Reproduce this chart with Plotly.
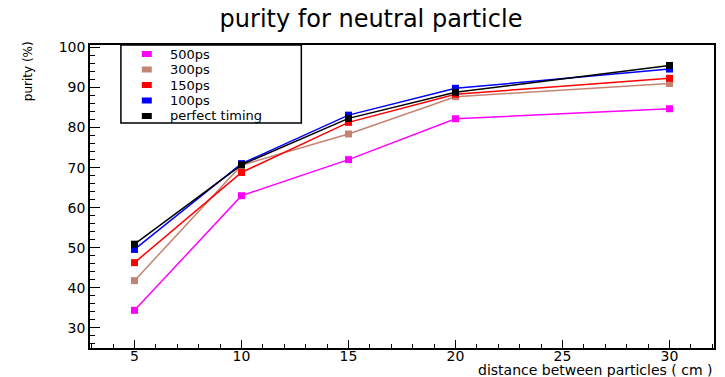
import plotly.graph_objects as go

# ---- data ----
distance = [5, 10, 15, 20, 30]
series_names = ["500ps", "300ps", "150ps", "100ps", "perfect timing"]
purity_500ps = [34.4, 63.0, 72.0, 82.2, 84.7]
purity_300ps = [41.8, 70.6, 78.4, 87.7, 91.0]
purity_150ps = [46.3, 68.8, 81.3, 88.3, 92.3]
purity_100ps = [49.6, 71.0, 83.1, 89.8, 94.6]
purity_perfect = [50.9, 70.7, 82.3, 88.8, 95.5]
colors = ["#ff00ff", "#c48474", "#ff0000", "#0000ff", "#000000"]
x_ticks = [5, 10, 15, 20, 25, 30]
y_ticks = [30, 40, 50, 60, 70, 80, 90, 100]

all_series = [purity_500ps, purity_300ps, purity_150ps, purity_100ps, purity_perfect]

W, H = 725, 377
L, R, T, B = 90, 9, 45, 29
PW, PH = W - L - R, H - T - B

def px(x):
    return (x - L) / PW

def py(y):
    return (H - B - y) / PH

FONT = "DejaVu Sans, Liberation Sans, Arial, sans-serif"

fig = go.Figure()
for name, vals, col in zip(series_names, all_series, colors):
    fig.add_trace(go.Scatter(
        x=distance, y=vals, mode="lines+markers", name=name,
        line=dict(color=col, width=1.5),
        marker=dict(symbol="square", size=7, color=col),
        showlegend=False,
    ))

# manual ROOT-style legend
shapes = [dict(type="rect", xref="paper", yref="paper",
               x0=px(121), x1=px(302), y0=py(123), y1=py(45),
               line=dict(color="black", width=1.5), fillcolor="white", layer="above")]
annotations = []
for i, (name, col) in enumerate(zip(series_names, colors)):
    yc = 54 + i * 15.5
    shapes.append(dict(type="rect", xref="paper", yref="paper",
                       x0=px(142), x1=px(152), y0=py(yc + 3), y1=py(yc - 3),
                       line=dict(width=0), fillcolor=col, layer="above"))
    annotations.append(dict(x=px(168), y=py(yc), xref="paper", yref="paper",
                            text=name, showarrow=False, xanchor="left", yanchor="middle",
                            font=dict(family=FONT, size=13, color="black")))

annotations.append(dict(x=1.0, y=py(370), xref="paper", yref="paper",
                        text="distance between particles ( cm )", showarrow=False,
                        xanchor="right", yanchor="middle",
                        font=dict(family=FONT, size=14, color="black")))
annotations.append(dict(x=px(28), y=py(39), xref="paper", yref="paper",
                        text="purity (%)", showarrow=False, textangle=-90,
                        xanchor="center", yanchor="top",
                        font=dict(family=FONT, size=12, color="black")))

fig.update_layout(
    width=W, height=H,
    margin=dict(l=L, r=R, t=T, b=B),
    paper_bgcolor="white", plot_bgcolor="white",
    title=dict(text="purity for neutral particle", x=371 / W, y=1 - 19 / H,
               xanchor="center", yanchor="middle", xref="container", yref="container",
               font=dict(family=FONT, size=24, color="black")),
    shapes=shapes, annotations=annotations,
    font=dict(family=FONT, color="black"),
)
fig.update_xaxes(
    range=[2.92, 32.08], tickvals=x_ticks, ticks="inside", ticklen=8, tickwidth=1.2,
    tickcolor="black", showgrid=False, zeroline=False,
    showline=True, linecolor="black", linewidth=1.5, mirror=True,
    tickfont=dict(family=FONT, size=14), ticklabelstandoff=-6,
    minor=dict(dtick=1, tick0=0, ticks="inside", ticklen=4, tickcolor="black", showgrid=False),
)
fig.update_yaxes(
    range=[25, 100.6], tickvals=y_ticks, ticks="inside", ticklen=10, tickwidth=1.2,
    tickcolor="black", showgrid=False, zeroline=False,
    showline=True, linecolor="black", linewidth=1.5, mirror=True,
    tickfont=dict(family=FONT, size=14),
    minor=dict(dtick=2, tick0=0, ticks="inside", ticklen=5, tickcolor="black", showgrid=False),
)

fig.write_html("out.html", config={"displayModeBar": False},
               post_script="document.body.style.margin='0';")
